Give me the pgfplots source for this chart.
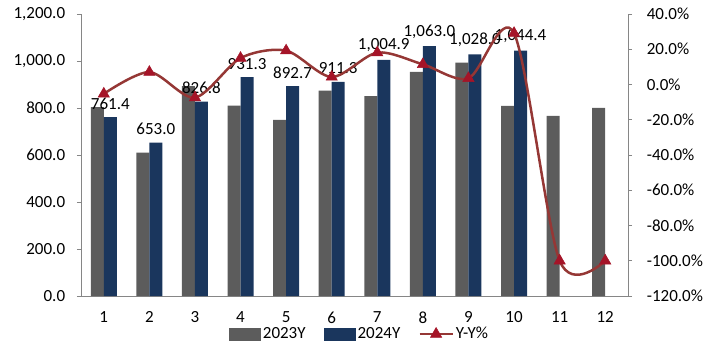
\documentclass[border=0pt]{standalone}
\usepackage{pgfplots}
\pgfplotsset{compat=1.18}
\usepackage{fontspec}
\setmainfont{Carlito}
\definecolor{c23}{RGB}{92,92,92}
\definecolor{c24}{RGB}{26,54,93}
\definecolor{cline}{RGB}{149,55,53}
\definecolor{cmark}{RGB}{165,20,40}
\definecolor{caxis}{RGB}{134,134,134}
\pgfplotsset{
  barleg/.style={legend image code/.code={\fill[##1] (0bp,-6.5bp) rectangle (32bp,6.5bp);}},
  lineleg/.style={legend image code/.code={\draw[##1, mark repeat=2, mark phase=2] plot coordinates {(0bp,0bp) (16.5bp,0bp) (33bp,0bp)};}},
}
\begin{document}
\fontsize{17bp}{20bp}\selectfont
\begin{tikzpicture}
\useasboundingbox (-81bp,-55bp) rectangle (631bp,296bp);
\begin{axis}[
  at={(0,0)}, anchor=south west, scale only axis, width=547bp, height=282bp,
  xmin=0.5, xmax=12.5, ymin=0, ymax=1200,
  axis y line*=left, axis x line*=bottom,
  axis line style={caxis, line width=0.8bp, -},
  xtick={1,...,12}, xtick style={draw=none},
  ytick={0,200,...,1200}, ytick style={caxis, line width=0.8bp},
  tick align=outside, major tick length=4bp,
  /pgf/number format/assume math mode=true,
  yticklabel style={/pgf/number format/.cd, fixed, fixed zerofill, precision=1, 1000 sep={,}, /tikz/.cd, xshift=-6bp},
  xticklabel style={yshift=-6bp},
  ybar=0pt, bar width=13bp,
]
\addplot[fill=c23, draw=none] coordinates {
 (1,804) (2,610) (3,893) (4,810) (5,749) (6,874) (7,851) (8,954) (9,993) (10,809) (11,766) (12,801)};
\addplot[fill=c24, draw=none, nodes near coords,
  every node near coord/.append style={/pgf/number format/.cd, fixed, fixed zerofill, precision=1, 1000 sep={,}, /tikz/.cd, text=black, yshift=2bp}] coordinates {
 (1,761.4) (2,653.0) (3,826.8) (4,931.3) (5,892.7) (6,911.3) (7,1004.9) (8,1063.0) (9,1028.0) (10,1044.4)};
\end{axis}
\begin{axis}[
  at={(0,0)}, anchor=south west, scale only axis, width=547bp, height=282bp,
  xmin=0.5, xmax=12.5, ymin=-120, ymax=40,
  axis y line*=right, axis x line=none,
  axis line style={caxis, line width=0.8bp, -},
  ytick={-120,-100,...,40}, ytick style={caxis, line width=0.8bp},
  tick align=outside, major tick length=4bp,
  /pgf/number format/assume math mode=true,
  yticklabel={\pgfmathprintnumber[fixed,fixed zerofill,precision=1]{\tick}\%},
  yticklabel style={xshift=9bp},
  legend columns=3,
  legend style={draw=none, fill=none, at={(rel axis cs:0.509,0)}, anchor=center, yshift=-38bp,
    /tikz/every even column/.append style={column sep=16bp}},
]
\addlegendimage{fill=c23, draw=none, barleg}
\addlegendentry{2023Y}
\addlegendimage{fill=c24, draw=none, barleg}
\addlegendentry{2024Y}
\addplot[cline, line width=2.5bp, smooth, mark=triangle*, mark size=6.5bp,
  mark options={fill=cmark, draw=cmark, line width=0.5bp}, lineleg] coordinates {
 (1,-5.30) (2,7.05) (3,-7.41) (4,14.98) (5,19.19) (6,4.27) (7,18.08) (8,11.43) (9,3.52) (10,29.10) (11,-100) (12,-100)};
\addlegendentry{Y-Y\%}
\end{axis}
\end{tikzpicture}
\end{document}
